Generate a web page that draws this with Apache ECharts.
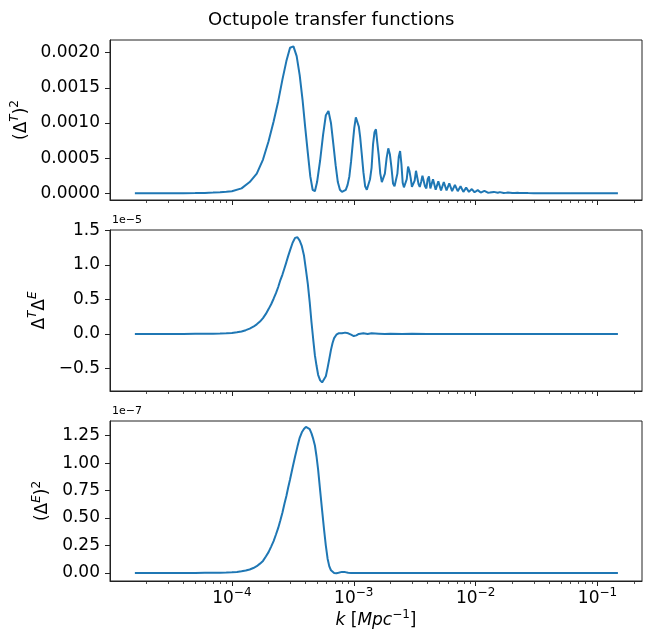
<!DOCTYPE html>
<html>
<head>
<meta charset="utf-8">
<script src="https://cdn.jsdelivr.net/npm/echarts@6/dist/echarts.min.js"></script>
<style>
html, body { margin: 0; padding: 0; background: #fff; }
#chart { width: 647px; height: 635px; }
</style>
</head>
<body>
<div id="chart"></div>
<script>
// k grid of the temperature panel [Mpc^-1]
var kTT = [1.6e-5, 2e-5, 3e-5, 4e-5, 5e-5, 6e-5, 7e-5, 8e-5, 9e-5, 1e-4,
  1.2e-4, 1.4e-4, 1.6e-4, 1.8e-4, 2.0e-4, 2.2e-4, 2.4e-4, 2.6e-4, 2.8e-4, 3.0e-4,
  3.2e-4, 3.4e-4, 3.6e-4, 3.8e-4, 4.0e-4, 4.2e-4, 4.4e-4, 4.6e-4, 4.8e-4, 5.0e-4,
  5.3e-4, 5.6e-4, 5.9e-4, 6.2e-4, 6.5e-4, 6.8e-4, 7.1e-4, 7.4e-4, 7.7e-4, 8.0e-4,
  8.3e-4, 8.6e-4, 8.9e-4, 9.2e-4, 9.5e-4, 9.8e-4, 1.01e-3, 1.04e-3, 1.07e-3, 1.10e-3,
  1.13e-3, 1.16e-3, 1.20e-3, 1.24e-3, 1.28e-3, 1.32e-3, 1.36e-3, 1.40e-3, 1.44e-3, 1.48e-3,
  1.52e-3, 1.56e-3, 1.60e-3, 1.65e-3, 1.70e-3, 1.75e-3, 1.80e-3, 1.86e-3, 1.92e-3, 1.98e-3,
  2.04e-3, 2.10e-3, 2.16e-3, 2.22e-3, 2.28e-3, 2.34e-3, 2.40e-3, 2.46e-3, 2.52e-3, 2.58e-3,
  2.65e-3, 2.72e-3, 2.79e-3, 2.86e-3, 2.93e-3, 3.00e-3, 3.08e-3, 3.16e-3, 3.24e-3, 3.32e-3,
  3.40e-3, 3.48e-3, 3.57e-3, 3.66e-3, 3.75e-3, 3.84e-3, 3.94e-3, 4.04e-3, 4.14e-3, 4.25e-3,
  4.36e-3, 4.47e-3, 4.58e-3, 4.70e-3, 4.82e-3, 4.94e-3, 5.07e-3, 5.20e-3, 5.34e-3, 5.48e-3,
  5.62e-3, 5.77e-3, 5.92e-3, 6.08e-3, 6.24e-3, 6.41e-3, 6.58e-3, 6.76e-3, 6.94e-3, 7.13e-3,
  7.32e-3, 7.52e-3, 7.72e-3, 7.93e-3, 8.14e-3, 8.36e-3, 8.58e-3, 8.81e-3, 9.05e-3, 9.30e-3,
  9.55e-3, 9.80e-3, 1.01e-2, 1.04e-2, 1.07e-2, 1.10e-2, 1.14e-2, 1.18e-2, 1.22e-2, 1.26e-2,
  1.31e-2, 1.36e-2, 1.41e-2, 1.46e-2, 1.52e-2, 1.58e-2, 1.64e-2, 1.70e-2, 1.77e-2, 1.84e-2,
  1.92e-2, 2.0e-2, 2.1e-2, 2.2e-2, 2.3e-2, 2.5e-2, 2.7e-2, 3.0e-2, 3.5e-2, 4.0e-2,
  5.0e-2, 6.0e-2, 8.0e-2, 0.1, 0.12, 0.147];

// (Delta^T)^2
var tt = [0, 0, 0.0003e-3, 0.001e-3, 0.003e-3, 0.006e-3, 0.01e-3, 0.015e-3, 0.022e-3, 0.03e-3,
  0.07e-3, 0.16e-3, 0.28e-3, 0.48e-3, 0.74e-3, 1.02e-3, 1.31e-3, 1.62e-3, 1.88e-3, 2.07e-3,
  2.09e-3, 1.95e-3, 1.68e-3, 1.33e-3, 0.93e-3, 0.57e-3, 0.24e-3, 0.05e-3, 0.03e-3, 0.16e-3,
  0.47e-3, 0.83e-3, 1.11e-3, 1.17e-3, 1.00e-3, 0.70e-3, 0.40e-3, 0.16e-3, 0.05e-3, 0.02e-3,
  0.02e-3, 0.05e-3, 0.12e-3, 0.24e-3, 0.45e-3, 0.70e-3, 0.93e-3, 1.08e-3, 1.10e-3, 0.95e-3,
  0.79e-3, 0.58e-3, 0.30e-3, 0.10e-3, 0.05e-3, 0.07e-3, 0.20e-3, 0.36e-3, 0.70e-3, 0.87e-3,
  0.91e-3, 0.72e-3, 0.55e-3, 0.28e-3, 0.16e-3, 0.14e-3, 0.28e-3, 0.50e-3, 0.64e-3, 0.55e-3,
  0.36e-3, 0.14e-3, 0.10e-3, 0.10e-3, 0.28e-3, 0.52e-3, 0.60e-3, 0.42e-3, 0.15e-3, 0.085e-3,
  0.085e-3, 0.20e-3, 0.38e-3, 0.32e-3, 0.22e-3, 0.09e-3, 0.08e-3, 0.18e-3, 0.32e-3, 0.30e-3,
  0.13e-3, 0.09e-3, 0.16e-3, 0.25e-3, 0.26e-3, 0.10e-3, 0.07e-3, 0.20e-3, 0.24e-3, 0.07e-3,
  0.06e-3, 0.20e-3, 0.19e-3, 0.05e-3, 0.06e-3, 0.17e-3, 0.16e-3, 0.04e-3, 0.05e-3, 0.16e-3,
  0.15e-3, 0.04e-3, 0.04e-3, 0.14e-3, 0.13e-3, 0.03e-3, 0.04e-3, 0.12e-3, 0.11e-3, 0.03e-3,
  0.03e-3, 0.10e-3, 0.09e-3, 0.02e-3, 0.03e-3, 0.08e-3, 0.07e-3, 0.02e-3, 0.02e-3, 0.06e-3,
  0.05e-3, 0.015e-3, 0.015e-3, 0.045e-3, 0.04e-3, 0.01e-3, 0.012e-3, 0.035e-3, 0.03e-3, 0.008e-3,
  0.01e-3, 0.025e-3, 0.02e-3, 0.006e-3, 0.008e-3, 0.017e-3, 0.013e-3, 0.004e-3, 0.006e-3, 0.011e-3,
  0.008e-3, 0.003e-3, 0.005e-3, 0.007e-3, 0.003e-3, 0.004e-3, 0.003e-3, 0.002e-3, 0.0015e-3, 0.001e-3,
  0.0008e-3, 0.0006e-3, 0.0004e-3, 0.0003e-3, 0.0002e-3, 0.0002e-3];

// k grid of the polarisation panels
var kPol = [1.6e-5, 2e-5, 3e-5, 4e-5, 5e-5, 6e-5, 7e-5, 8e-5, 9e-5, 1e-4,
  1.1e-4, 1.2e-4, 1.3e-4, 1.4e-4, 1.5e-4, 1.6e-4, 1.7e-4, 1.8e-4, 1.9e-4, 2.0e-4,
  2.1e-4, 2.2e-4, 2.3e-4, 2.4e-4, 2.5e-4, 2.6e-4, 2.7e-4, 2.8e-4, 2.9e-4, 3.0e-4,
  3.15e-4, 3.3e-4, 3.45e-4, 3.6e-4, 3.75e-4, 3.9e-4, 4.05e-4, 4.2e-4, 4.35e-4, 4.5e-4,
  4.65e-4, 4.8e-4, 4.95e-4, 5.1e-4, 5.3e-4, 5.5e-4, 5.7e-4, 5.9e-4, 6.1e-4, 6.3e-4,
  6.5e-4, 6.7e-4, 6.9e-4, 7.2e-4, 7.5e-4, 8.0e-4, 8.5e-4, 9.0e-4, 9.5e-4, 1.0e-3,
  1.05e-3, 1.1e-3, 1.2e-3, 1.3e-3, 1.4e-3, 1.6e-3, 1.8e-3, 2.0e-3, 2.5e-3, 3.0e-3,
  4.0e-3, 6.0e-3, 1.0e-2, 2.0e-2, 5.0e-2, 0.1, 0.147];

// Delta^T Delta^E, in units of 1e-5
var te = [0, 0, 0.0005, 0.001, 0.002, 0.003, 0.005, 0.007, 0.01, 0.014,
  0.024, 0.037, 0.055, 0.078, 0.105, 0.14, 0.18, 0.23, 0.29, 0.36,
  0.43, 0.51, 0.59, 0.68, 0.78, 0.86, 0.95, 1.04, 1.13, 1.21,
  1.32, 1.39, 1.40, 1.35, 1.27, 1.14, 0.93, 0.72, 0.46, 0.17,
  -0.08, -0.31, -0.46, -0.59, -0.67, -0.70, -0.69, -0.61, -0.49, -0.36,
  -0.23, -0.13, -0.06, -0.01, 0.01, 0.01, 0.02, 0.01, -0.01, -0.03,
  -0.02, 0.0, 0.01, 0.0, 0.01, 0.005, 0.0, 0.003, 0.0, 0.002,
  0.0, 0.001, 0, 0, 0, 0, 0];

// (Delta^E)^2, in units of 1e-7
var ee = [0, 0, 0, 0.0005, 0.001, 0.0015, 0.002, 0.003, 0.004, 0.006,
  0.01, 0.015, 0.022, 0.032, 0.045, 0.062, 0.085, 0.11, 0.15, 0.19,
  0.24, 0.29, 0.35, 0.41, 0.48, 0.55, 0.63, 0.70, 0.78, 0.85,
  0.96, 1.06, 1.15, 1.23, 1.28, 1.31, 1.33, 1.325, 1.31, 1.27,
  1.22, 1.16, 1.06, 0.94, 0.75, 0.57, 0.40, 0.25, 0.13, 0.06,
  0.025, 0.008, 0.0, -0.003, 0.002, 0.01, 0.008, 0.003, 0.0, 0.001,
  0, 0, 0, 0, 0, 0, 0, 0, 0, 0,
  0, 0, 0, 0, 0, 0, 0];

var xMajor = [1e-4, 1e-3, 1e-2, 1e-1];
var xMinor = [2e-5, 3e-5, 4e-5, 5e-5, 6e-5, 7e-5, 8e-5, 9e-5,
  2e-4, 3e-4, 4e-4, 5e-4, 6e-4, 7e-4, 8e-4, 9e-4,
  2e-3, 3e-3, 4e-3, 5e-3, 6e-3, 7e-3, 8e-3, 9e-3,
  2e-2, 3e-2, 4e-2, 5e-2, 6e-2, 7e-2, 8e-2, 9e-2, 0.2];
var ttTicks = [0, 0.0005, 0.001, 0.0015, 0.002];
var teTicks = [-0.5, 0, 0.5, 1.0, 1.5];
var eeTicks = [0, 0.25, 0.5, 0.75, 1.0, 1.25];

var FONT = 'DejaVu Sans';
var INK = '#222';
var rich = {
    n: { fontFamily: FONT, fontSize: 17, color: '#000', lineHeight: 24 },
    i: { fontFamily: FONT, fontSize: 17, color: '#000', fontStyle: 'italic', lineHeight: 24 },
    s: { fontFamily: FONT, fontSize: 12, color: '#000', verticalAlign: 'top', lineHeight: 11 },
    si: { fontFamily: FONT, fontSize: 12, color: '#000', fontStyle: 'italic', verticalAlign: 'top', lineHeight: 11 }
};

var myChart = echarts.init(document.getElementById('chart'));

var kMin = 1e-5, kMax = 0.2317;
var grids = [
    { left: 110, top: 40, width: 532, height: 160 },
    { left: 110, top: 230, width: 532, height: 161 },
    { left: 110, top: 421, width: 532, height: 160 }
];
grids.forEach(function (g) {
    g.show = true;
    g.borderColor = INK;
    g.borderWidth = 1;
    g.outerBoundsMode = 'none';
});

function xAxes(gi, last) {
    return [{
        type: 'log', logBase: 10, gridIndex: gi, min: kMin, max: kMax, position: 'bottom',
        axisLine: { show: true, onZero: false, lineStyle: { color: INK, width: 1 } },
        axisTick: { show: true, length: 5, customValues: xMajor, lineStyle: { color: INK, width: 1 } },
        axisLabel: {
            show: last, customValues: xMajor, margin: 6, rich: rich,
            formatter: function (v) {
                var e = Math.round(Math.log10(v));
                return '{n|10}{s|' + (e < 0 ? '−' : '') + Math.abs(e) + '}';
            }
        },
        splitLine: { show: false },
        name: last ? '{i|k}{n| [}{i|Mpc}{s|−1}{n|]}' : '',
        nameLocation: 'middle', nameGap: 28,
        nameTextStyle: { rich: rich }
    }, {
        type: 'log', logBase: 10, gridIndex: gi, min: kMin, max: kMax, position: 'bottom',
        axisLine: { show: false, onZero: false },
        axisTick: { show: true, length: 3, customValues: xMinor, lineStyle: { color: INK, width: 0.8 } },
        axisLabel: { show: false },
        splitLine: { show: false }
    }];
}

function yAxis(gi, min, max, ticks, fmt, name, gap) {
    return {
        type: 'value', gridIndex: gi, min: min, max: max,
        axisLine: { show: true, onZero: false, lineStyle: { color: INK, width: 1 } },
        axisTick: { show: true, length: 5, customValues: ticks, lineStyle: { color: INK, width: 1 } },
        axisLabel: {
            customValues: ticks, formatter: fmt, margin: 10,
            fontFamily: FONT, fontSize: 17, color: '#000'
        },
        splitLine: { show: false },
        name: name, nameLocation: 'middle', nameRotate: 90, nameGap: gap,
        nameTextStyle: { rich: rich }
    };
}

function pairs(ks, vs) {
    return ks.map(function (k, i) { return [k, vs[i]]; });
}

function line(gi, data) {
    return {
        type: 'line', xAxisIndex: gi * 2, yAxisIndex: gi, data: data,
        showSymbol: false, symbol: 'none', animation: false,
        lineStyle: { color: '#1f77b4', width: 2 }
    };
}

option = {
    backgroundColor: '#fff',
    animation: false,
    title: {
        text: 'Octupole transfer functions', left: 203, top: 6,
        textStyle: { fontFamily: FONT, fontSize: 18, fontWeight: 'normal', color: '#000' }
    },
    grid: grids,
    xAxis: xAxes(0, false).concat(xAxes(1, false), xAxes(2, true)),
    yAxis: [
        yAxis(0, -0.0000953, 0.00218, ttTicks, function (v) { return v.toFixed(4); },
            '{n|(Δ}{si|T}{n|)}{s|2}', 71),
        yAxis(1, -0.8245, 1.504, teTicks, function (v) { return v.toFixed(1).replace('-', '−'); },
            '{n|Δ}{si|T}{n|Δ}{si|E}', 55),
        yAxis(2, -0.0728, 1.383, eeTicks, function (v) { return v.toFixed(2); },
            '{n|(Δ}{si|E}{n|)}{s|2}', 51)
    ],
    // matplotlib offset texts
    graphic: [
        { type: 'text', left: 112, top: 215, style: { text: '1e−5', font: '11px "DejaVu Sans"', fill: '#000' } },
        { type: 'text', left: 112, top: 406, style: { text: '1e−7', font: '11px "DejaVu Sans"', fill: '#000' } }
    ],
    series: [
        line(0, pairs(kTT, tt)),
        line(1, pairs(kPol, te)),
        line(2, pairs(kPol, ee))
    ]
};

myChart.setOption(option);
</script>
</body>
</html>
